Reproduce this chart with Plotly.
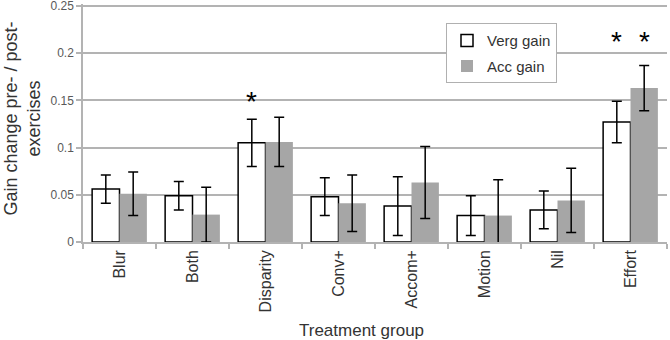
import plotly.graph_objects as go

categories = ["Blur", "Both", "Disparity", "Conv+", "Accom+", "Motion", "Nil", "Effort"]
verg_gain = [0.056, 0.049, 0.105, 0.048, 0.038, 0.028, 0.034, 0.127]
verg_err = [0.015, 0.015, 0.025, 0.020, 0.031, 0.021, 0.020, 0.022]
acc_gain = [0.051, 0.029, 0.106, 0.041, 0.063, 0.028, 0.044, 0.163]
acc_err = [0.023, 0.029, 0.026, 0.030, 0.038, 0.038, 0.034, 0.024]
y_ticks = [0, 0.05, 0.1, 0.15, 0.2, 0.25]
y_tick_labels = ["0", "0.05", "0.1", "0.15", "0.2", "0.25"]
# significance markers: (category, series, y position of asterisk)
stars = [("Disparity", "verg", 0.149), ("Effort", "verg", 0.212), ("Effort", "acc", 0.212)]

GRID = "#b3b3b3"
TXT = "#595959"
DARK = "#333333"
FONT = "Liberation Sans, Arial, sans-serif"

W, H = 670, 340
ML, MR, MT, MB = 83, 3, 4, 98

fig = go.Figure()
fig.add_trace(go.Bar(
    x=categories, y=verg_gain, name="Verg gain", legendgroup="v",
    marker=dict(color="white", line=dict(color="black", width=1.5)),
    error_y=dict(type="data", array=verg_err, color="black", thickness=1.5, width=5),
))
fig.add_trace(go.Bar(
    x=categories, y=acc_gain, name="Acc gain", legendgroup="a",
    marker=dict(color="#a6a6a6", line=dict(color="#a6a6a6", width=0)),
    error_y=dict(type="data", array=acc_err, color="black", thickness=1.5, width=5),
))

plot_w = W - ML - MR
plot_h = H - MT - MB
group_px = plot_w / len(categories)
bargap = 0.25
bar_px = group_px * (1 - bargap) / 2
for cat, series, ys in stars:
    shift = -bar_px / 2 if series == "verg" else bar_px / 2
    fig.add_annotation(x=cat, y=ys, text="*", showarrow=False, xshift=shift,
                       font=dict(size=28, color="black", family=FONT), yanchor="middle")

# axis titles as annotations (positioned like the original)
fig.add_annotation(xref="paper", yref="paper", x=(361.5 - ML) / plot_w, y=-(330 - (H - MB)) / plot_h,
                   text="Treatment group", showarrow=False, xanchor="center", yanchor="middle",
                   font=dict(size=17, color=DARK, family=FONT))
fig.add_annotation(xref="paper", yref="paper", x=(22 - ML) / plot_w, y=((H - MB) - 118.5) / plot_h,
                   text="Gain change pre- / post-<br>exercises", showarrow=False, textangle=-90,
                   xanchor="center", yanchor="middle",
                   font=dict(size=18, color=DARK, family=FONT))

fig.update_layout(
    width=W, height=H,
    margin=dict(l=ML, r=MR, t=MT, b=MB),
    paper_bgcolor="white", plot_bgcolor="white",
    barmode="group", bargap=bargap, bargroupgap=0,
    font=dict(family=FONT, color=TXT),
    showlegend=True,
    legend=dict(x=(446 - ML) / plot_w, y=((H - MB) - 23.3) / plot_h, xanchor="left", yanchor="top",
                bgcolor="white", bordercolor="#b0b0b0", borderwidth=1,
                font=dict(size=15, color=DARK), tracegroupgap=3),
    xaxis=dict(
        tickangle=-90, tickfont=dict(size=16, color=DARK),
        showline=True, linecolor=GRID, linewidth=1.5,
        ticks="outside", tickson="boundaries", ticklen=5, tickcolor=GRID, tickwidth=1.5,
        showgrid=False, automargin=False,
    ),
    yaxis=dict(
        range=[0, 0.252], tickvals=y_ticks, ticktext=y_tick_labels,
        tickfont=dict(size=12, color=TXT), ticklabeloverflow="allow",
        showline=True, linecolor=GRID, linewidth=1.5,
        ticks="outside", ticklen=5, tickcolor=GRID, tickwidth=1.5,
        showgrid=True, gridcolor=GRID, gridwidth=1.5, zeroline=False,
        automargin=False,
    ),
)

fig.write_html("out.html", config={"displayModeBar": False},
               post_script="document.body.style.margin='0';document.body.style.padding='0';")
